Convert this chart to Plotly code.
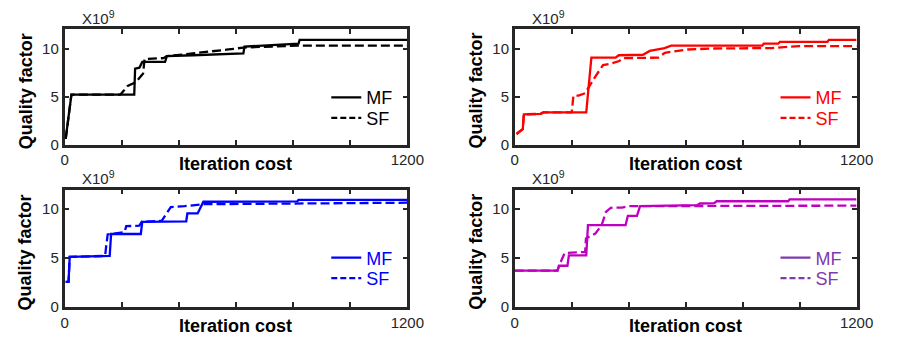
import plotly.graph_objects as go

W, H = 897, 347

# ---------------- data ----------------
x_tick_vals = [0, 200, 400, 600, 800, 1000, 1200]
x_tick_text = ["0", "", "", "", "", "", "1200"]
y_tick_vals = [0, 5, 10]
y_tick_text = ["0", "5", "10"]

# Panel 1 (black)
p1_mf_x = [4, 10, 14, 24, 244, 247, 262, 272, 352, 358, 450, 626, 630, 819, 823, 1200]
p1_mf_y = [0.6, 2.1, 3.0, 5.2, 5.2, 7.9, 8.0, 8.6, 8.6, 9.2, 9.3, 9.5, 10.2, 10.5, 10.9, 10.9]
p1_sf_x = [4, 10, 14, 24, 195, 221, 250, 275, 280, 346, 358, 450, 520, 574, 626, 700, 814, 1200]
p1_sf_y = [0.6, 2.1, 3.0, 5.2, 5.2, 6.1, 6.5, 7.4, 8.9, 9.0, 9.2, 9.5, 9.65, 9.9, 10.1, 10.15, 10.3, 10.3]

# Panel 2 (red)
p2_mf_x = [6, 23, 28, 32, 91, 100, 251, 269, 354, 365, 450, 474, 526, 549, 869, 874, 925, 931, 1098, 1103, 1200]
p2_mf_y = [1.1, 1.45, 1.6, 3.15, 3.2, 3.35, 3.35, 9.05, 9.05, 9.3, 9.35, 9.75, 10.05, 10.3, 10.3, 10.5, 10.5, 10.7, 10.7, 10.9, 10.9]
p2_sf_x = [6, 23, 28, 32, 91, 100, 200, 206, 224, 247, 260, 281, 310, 333, 367, 380, 504, 527, 607, 700, 900, 1000, 1200]
p2_sf_y = [1.1, 1.45, 1.6, 3.15, 3.2, 3.35, 3.35, 5.1, 5.1, 5.35, 6.0, 7.0, 8.28, 8.4, 8.7, 9.0, 9.05, 9.56, 9.9, 10.0, 10.05, 10.25, 10.25]

# Panel 3 (blue)
p3_mf_x = [4, 14, 18, 158, 163, 267, 272, 426, 430, 466, 486, 815, 819, 1200]
p3_mf_y = [2.55, 2.55, 5.1, 5.2, 7.45, 7.45, 8.7, 8.75, 9.55, 9.55, 10.75, 10.78, 10.95, 10.95]
p3_sf_x = [4, 14, 18, 142, 145, 151, 210, 216, 262, 270, 340, 355, 372, 420, 450, 490, 1200]
p3_sf_y = [2.55, 2.55, 5.1, 5.2, 6.0, 7.4, 7.65, 8.25, 8.3, 8.7, 8.8, 9.4, 10.2, 10.3, 10.4, 10.5, 10.65]

# Panel 4 (purple)
p4_mf_x = [0, 150, 155, 185, 190, 251, 257, 389, 397, 429, 440, 640, 650, 700, 709, 960, 965, 1200]
p4_mf_y = [3.7, 3.7, 4.2, 4.2, 5.25, 5.25, 8.35, 8.35, 9.3, 9.3, 10.3, 10.4, 10.57, 10.6, 10.8, 10.8, 11.0, 11.0]
p4_sf_x = [0, 150, 160, 171, 175, 200, 247, 250, 283, 305, 320, 337, 377, 400, 1200]
p4_sf_y = [3.7, 3.7, 4.5, 5.3, 5.5, 5.55, 5.6, 7.0, 7.5, 8.34, 9.7, 10.13, 10.15, 10.3, 10.35]

series_names = ["MF", "SF"]

# ---------------- layout geometry (pixels) ----------------
panels = [
    dict(x0=62, x1=413, y0=30, y1=148, col="#000000", leg="#000000",
         mf=(p1_mf_x, p1_mf_y), sf=(p1_sf_x, p1_sf_y)),
    dict(x0=523, x1=873, y0=30, y1=148, col="#FF0000", leg="#FF0000",
         mf=(p2_mf_x, p2_mf_y), sf=(p2_sf_x, p2_sf_y)),
    dict(x0=62, x1=413, y0=194, y1=314, col="#0000FF", leg="#0000FF",
         mf=(p3_mf_x, p3_mf_y), sf=(p3_sf_x, p3_sf_y)),
    dict(x0=523, x1=873, y0=194, y1=314, col="#C000C0", leg="#7E3AAE",
         mf=(p4_mf_x, p4_mf_y), sf=(p4_sf_x, p4_sf_y)),
]

AX = "#262626"
FONT = "Liberation Sans, Arial, sans-serif"

def px_x(p):
    return p / W

def px_y(p):
    return 1 - p / H

fig = go.Figure()
layout = dict(
    width=W, height=H,
    margin=dict(l=0, r=0, t=0, b=0),
    paper_bgcolor="white", plot_bgcolor="white",
    font=dict(family=FONT, size=15, color=AX),
    showlegend=True,
    annotations=[],
)

leg_idx = 0
for i, p in enumerate(panels):
    n = "" if i == 0 else str(i + 1)
    xa, ya = "x" + n, "y" + n
    # main curves
    fig.add_trace(go.Scatter(x=p["mf"][0], y=p["mf"][1], mode="lines",
                             line=dict(color=p["col"], width=2.3),
                             xaxis=xa, yaxis=ya, showlegend=False, hoverinfo="skip"))
    fig.add_trace(go.Scatter(x=p["sf"][0], y=p["sf"][1], mode="lines",
                             line=dict(color=p["col"], width=2.3, dash="9px,4px"),
                             xaxis=xa, yaxis=ya, showlegend=False, hoverinfo="skip"))
    # legend entries (one legend box per row, for exact row spacing)
    row_y = [p["y0"] + 70, p["y0"] + 91]
    dashes = ["solid", "6px,3px"]
    for k in range(2):
        leg_idx += 1
        legname = "legend" if leg_idx == 1 else "legend" + str(leg_idx)
        fig.add_trace(go.Scatter(x=[None], y=[None], mode="lines", name=series_names[k],
                                 line=dict(color=p["leg"], width=2.3, dash=dashes[k]),
                                 xaxis=xa, yaxis=ya, legend=legname))
        layout[legname] = dict(
            x=px_x(p["x1"] - 83), xanchor="left",
            y=px_y(row_y[k]), yanchor="middle",
            bgcolor="rgba(0,0,0,0)", borderwidth=0,
            font=dict(family=FONT, size=18, color=p["leg"]),
        )

    common = dict(showline=True, linecolor=AX, linewidth=2.5, mirror="ticks",
                  ticks="inside", ticklen=5, tickwidth=2, tickcolor=AX,
                  showgrid=False, zeroline=False, fixedrange=True,
                  tickfont=dict(family=FONT, size=15, color=AX))
    layout["xaxis" + n] = dict(common, domain=[px_x(p["x0"]), px_x(p["x1"])],
                               range=[0, 1200], tickmode="array",
                               tickvals=x_tick_vals, ticktext=x_tick_text,
                               anchor=ya)
    layout["yaxis" + n] = dict(common, domain=[px_y(p["y1"]), px_y(p["y0"])],
                               range=[0, 12], tickmode="array",
                               tickvals=y_tick_vals, ticktext=y_tick_text,
                               anchor=xa)
    # exponent label
    layout["annotations"].append(dict(
        x=px_x(p["x0"] + 16), y=px_y(p["y0"] - 12), xref="paper", yref="paper",
        xanchor="left", yanchor="middle", showarrow=False,
        text="X10<sup>9</sup>", font=dict(family=FONT, size=15, color=AX)))
    # y title
    layout["annotations"].append(dict(
        x=px_x(p["x0"] - 40), y=px_y((p["y0"] + p["y1"]) / 2 + 4), xref="paper", yref="paper",
        xanchor="center", yanchor="middle", showarrow=False, textangle=-90,
        text="<b>Quality factor</b>", font=dict(family=FONT, size=18, color="#000000")))
    # x title
    layout["annotations"].append(dict(
        x=px_x((p["x0"] + p["x1"]) / 2), y=px_y(p["y1"] + 20), xref="paper", yref="paper",
        xanchor="center", yanchor="middle", showarrow=False,
        text="<b>Iteration cost</b>", font=dict(family=FONT, size=18, color="#000000")))

fig.update_layout(**layout)
fig.write_html("out.html")
